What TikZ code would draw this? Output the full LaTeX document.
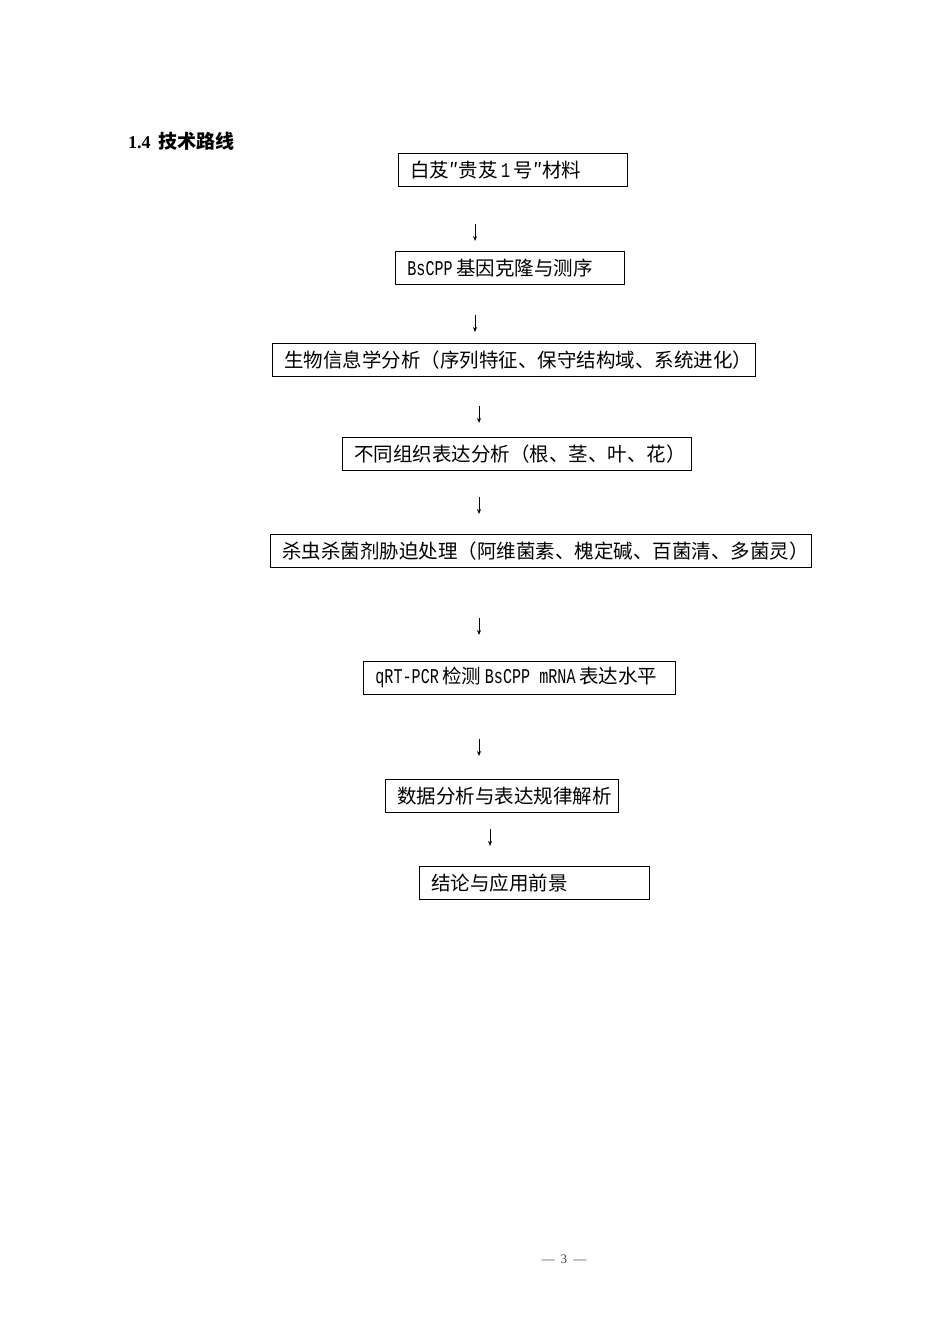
\documentclass[tikz,border=0pt]{standalone}
\usepackage{fontspec}
\setmainfont{Liberation Serif}
\newfontfamily\cjk{Noto Sans CJK SC}
\newfontfamily\latf{Liberation Mono}[FakeStretch=0.72]
\newcommand{\lat}{\fontsize{21}{21}\selectfont\latf}
\usetikzlibrary{arrows.meta}
\begin{document}
\begin{tikzpicture}[x=1pt,y=-1pt,
  stepbox/.style={draw, line width=0.8pt, minimum height=33pt, inner xsep=12pt, inner ysep=0pt,
    anchor=north west, font=\fontsize{19.5}{21}\selectfont\cjk},
  flow/.style={-{Stealth[length=5pt,width=4pt]}, line width=0.8pt}]
\useasboundingbox (0,0) rectangle (950,1344);
\fill[white] (0,0) rectangle (950,1344);
\node[anchor=west, inner sep=0pt, font=\fontsize{18}{20}\selectfont\bfseries] (title) at (128,141) {1.4\hspace{8pt}{\fontsize{19}{20}\selectfont\cjk 技术路线}};
\node[stepbox] (b1) at (398,153) {\makebox[205pt][l]{白芨″贵芨{\lat\,1\,}号″材料}};
\node[stepbox] (b2) at (395,251) {\makebox[205pt][l]{{\lat BsCPP\,}基因克隆与测序}};
\node[stepbox] (b3) at (272,343) {\makebox[459pt][l]{生物信息学分析（序列特征、保守结构域、系统进化）}};
\node[stepbox] (b4) at (342,437) {\makebox[325pt][l]{不同组织表达分析（根、茎、叶、花）}};
\node[stepbox] (b5) at (270,534) {\makebox[517pt][l]{杀虫杀菌剂胁迫处理（阿维菌素、槐定碱、百菌清、多菌灵）}};
\node[stepbox] (b6) at (363,661) {\makebox[288pt][l]{{\lat qRT-PCR\,}检测{\lat\,BsCPP\ mRNA\,}表达水平}};
\node[stepbox] (b7) at (385,779) {\makebox[209pt][l]{数据分析与表达规律解析}};
\node[stepbox] (b8) at (419,866) {\makebox[206pt][l]{结论与应用前景}};
\coordinate (a1s) at (475,224); \coordinate (a1e) at (475,241);
\coordinate (a2s) at (475,315); \coordinate (a2e) at (475,332);
\coordinate (a3s) at (479,406); \coordinate (a3e) at (479,423);
\coordinate (a4s) at (479,497); \coordinate (a4e) at (479,514);
\coordinate (a5s) at (479,618); \coordinate (a5e) at (479,635);
\coordinate (a6s) at (479,739); \coordinate (a6e) at (479,756);
\coordinate (a7s) at (490,829); \coordinate (a7e) at (490,846);
\foreach \i in {1,...,7} {\draw[flow] (a\i s) -- (a\i e);}
\node[font=\fontsize{13}{15}\selectfont, text=black!70] (pg) at (564,1259) {—\hspace{6pt}3\hspace{6pt}—};
\end{tikzpicture}
\end{document}
